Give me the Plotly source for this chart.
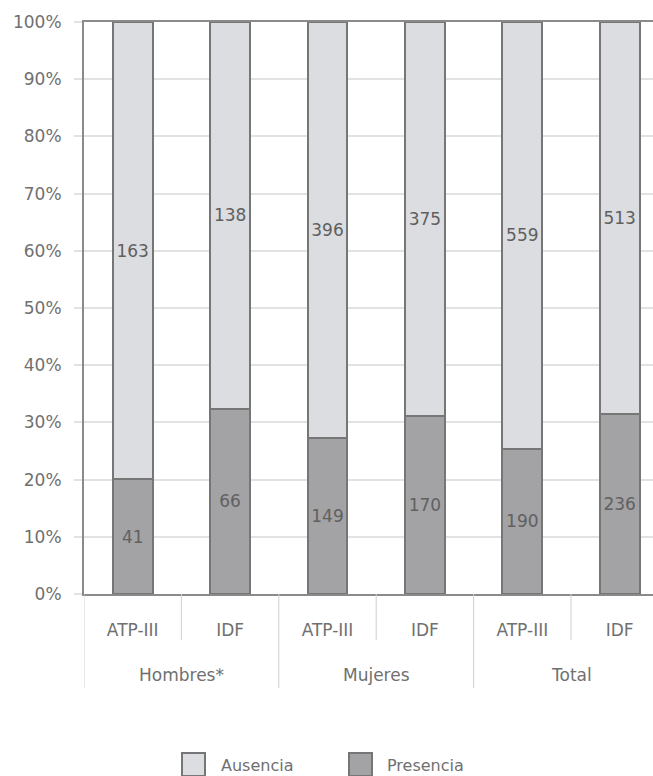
import plotly.graph_objects as go

# Counts per criterion and sex group
groups = ["Hombres*", "Mujeres", "Total"]
criteria = ["ATP-III", "IDF", "ATP-III", "IDF", "ATP-III", "IDF"]
presencia = [41, 66, 149, 170, 190, 236]
ausencia = [163, 138, 396, 375, 559, 513]

totals = [p + a for p, a in zip(presencia, ausencia)]
pct_pres = [100 * p / t for p, t in zip(presencia, totals)]
pct_aus = [100 * a / t for a, t in zip(ausencia, totals)]
xpos = list(range(len(criteria)))

W, H = 653, 776
ML, MR, MT, MB = 84, 0, 22, 182
PW = W - ML - MR
PH = H - MT - MB

FONT = "'DejaVu Sans', sans-serif"
TXT = "#707070"
EDGE = "#767676"
C_AUS = "#dcdde0"
C_PRES = "#a3a3a5"
FS = 17

fig = go.Figure()
for vals, pct, name, color in [(presencia, pct_pres, "Presencia", C_PRES),
                               (ausencia, pct_aus, "Ausencia", C_AUS)]:
    fig.add_trace(go.Bar(
        x=xpos, y=pct, name=name, text=vals,
        textposition="inside", insidetextanchor="middle",
        textfont=dict(color="#606060", size=FS, family=FONT),
        marker=dict(color=color, line=dict(color=EDGE, width=2)),
        width=0.41, showlegend=False,
    ))

# categories spaced ~97 px; the right end of the axis runs past the page
unit = 97.4
xmax = -0.5 + PW / unit

shapes = []
annotations = []


def py(pix):
    """page pixel row -> paper y"""
    return (H - MB - pix) / PH


def px(pix):
    """page pixel column -> paper x"""
    return (pix - ML) / PW


# separators below the axis
for xb in [0.5, 2.5, 4.5]:
    shapes.append(dict(type="line", xref="x", yref="paper", x0=xb, x1=xb,
                       y0=0, y1=py(640), line=dict(color="#cfcfcf", width=1)))
for xb in [-0.5, 1.5, 3.5, 5.5]:
    shapes.append(dict(type="line", xref="x", yref="paper", x0=xb, x1=xb,
                       y0=0, y1=py(688), line=dict(color="#cfcfcf", width=1)))

# group labels
for i, g in enumerate(groups):
    annotations.append(dict(x=2 * i + 0.5, y=py(675), xref="x", yref="paper",
                            text=g, showarrow=False, xanchor="center", yanchor="middle",
                            font=dict(size=FS, color=TXT, family=FONT)))

# legend drawn as boxes with text
for name, color, x0, x1, xt in [("Ausencia", C_AUS, 182, 205, 219),
                                 ("Presencia", C_PRES, 349, 372, 385)]:
    shapes.append(dict(type="rect", xref="paper", yref="paper",
                       x0=px(x0), x1=px(x1), y0=py(776), y1=py(753),
                       fillcolor=color, line=dict(color=EDGE, width=2)))
    annotations.append(dict(x=px(xt), y=py(765), xref="paper", yref="paper",
                            text=name, showarrow=False, xanchor="left", yanchor="middle",
                            font=dict(size=FS - 1, color=TXT, family=FONT)))

fig.update_layout(
    width=W, height=H,
    margin=dict(l=ML, r=MR, t=MT, b=MB, pad=0),
    barmode="stack",
    plot_bgcolor="white", paper_bgcolor="white",
    font=dict(family=FONT, color=TXT),
    shapes=shapes, annotations=annotations,
    uniformtext=dict(mode="show", minsize=10),
)
fig.update_xaxes(
    range=[-0.5, xmax], tickvals=xpos, ticktext=criteria,
    showgrid=False, zeroline=False, ticks="",
    showline=True, linecolor="#8a8a8a", linewidth=2, mirror=True,
    tickfont=dict(size=FS, color=TXT, family=FONT), ticklabelstandoff=20,
)
fig.update_yaxes(
    range=[0, 100], dtick=10, ticksuffix="%",
    showgrid=True, gridcolor="#e2e2e2", gridwidth=2,
    zeroline=False, showline=True, linecolor="#8a8a8a", linewidth=2,
    ticks="outside", ticklen=8, tickcolor="#e2e2e2", tickwidth=2,
    tickfont=dict(size=FS, color=TXT, family=FONT), ticklabelstandoff=9,
)

fig.write_html("out.html")
